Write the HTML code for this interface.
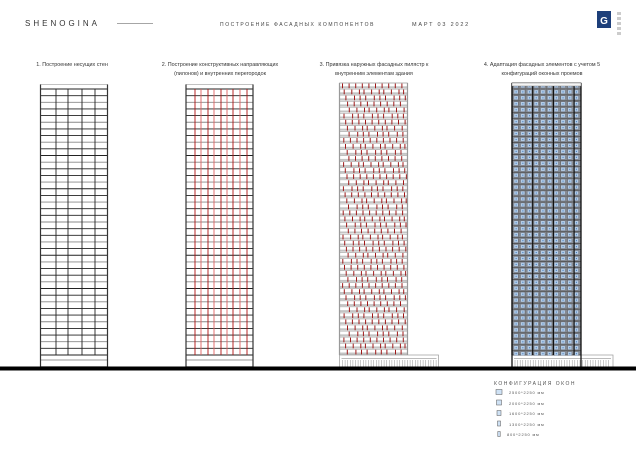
<!DOCTYPE html>
<html><head><meta charset="utf-8"><style>
body{margin:0;background:#fff;width:636px;height:450px;overflow:hidden;font-family:"Liberation Sans","Noto Sans CJK SC",sans-serif}
svg{display:block}
</style></head><body>
<svg id="s" width="636" height="450" xmlns="http://www.w3.org/2000/svg" font-family="Liberation Sans, sans-serif">
<text x="25" y="26" font-size="8" letter-spacing="3" fill="#333">SHENOGINA</text>
<line x1="117" y1="23.5" x2="153" y2="23.5" stroke="#888" stroke-width="0.7"/>
<text x="220" y="26" font-size="5" letter-spacing="1.6" fill="#444">ПОСТРОЕНИЕ ФАСАДНЫХ КОМПОНЕНТОВ</text>
<text x="412" y="26" font-size="5.5" letter-spacing="1.8" fill="#444">МАРТ 03 2022</text>
<rect x="597" y="11" width="14" height="17" fill="#1d3f7a"/>
<text x="604" y="24" font-size="10" font-weight="bold" fill="#fff" text-anchor="middle">G</text>
<g fill="#333" font-size="5.4" text-anchor="middle">
<text x="72" y="66">1. Построение несущих стен</text>
<text x="220" y="66">2. Построение конструктивных направляющих</text>
<text x="220" y="75">(пилонов) и внутренних перегородок</text>
<text x="374" y="66">3. Привязка наружных фасадных пилястр к</text>
<text x="374" y="75">внутренним элементам здания</text>
<text x="542" y="66">4. Адаптация фасадных элементов с учетом 5</text>
<text x="542" y="75">конфигураций оконных проемов</text>
</g>
<g id="g"></g>
<rect x="0" y="366.5" width="636" height="4" fill="#000"/>
<text x="494" y="385" font-size="5" letter-spacing="1.5" fill="#555">КОНФИГУРАЦИЯ ОКОН</text>
<g font-size="4" fill="#555" letter-spacing="0.8">
<rect x="496" y="389.5" width="6" height="5" fill="#cfe2f5" stroke="#555" stroke-width="0.5"/><text x="509" y="394">2500*2250 мм</text>
<rect x="496.5" y="400" width="5" height="5" fill="#cfe2f5" stroke="#555" stroke-width="0.5"/><text x="509" y="405">2000*2250 мм</text>
<rect x="497" y="410.5" width="4" height="5" fill="#cfe2f5" stroke="#555" stroke-width="0.5"/><text x="509" y="415">1600*2250 мм</text>
<rect x="497.5" y="421" width="3" height="5" fill="#cfe2f5" stroke="#555" stroke-width="0.5"/><text x="509" y="426">1300*2250 мм</text>
<rect x="497.8" y="431.5" width="2.4" height="5" fill="#cfe2f5" stroke="#555" stroke-width="0.5"/><text x="507" y="436">800*2250 мм</text>
</g>
<g fill="#ccc"><rect x="617" y="12" width="4" height="3"/><rect x="617" y="17" width="4" height="3"/><rect x="617" y="22" width="4" height="3"/><rect x="617" y="27" width="4" height="3"/><rect x="617" y="32" width="4" height="3"/></g>
</svg>
<script>
var g=document.getElementById('g'),h='';
function L(x1,y1,x2,y2,c,w){h+='<line x1="'+x1+'" y1="'+y1+'" x2="'+x2+'" y2="'+y2+'" stroke="'+c+'" stroke-width="'+w+'"/>';}
function R(x,y,w,hh,f,s,sw){h+='<rect x="'+x+'" y="'+y+'" width="'+w+'" height="'+hh+'" fill="'+f+'"'+(s?' stroke="'+s+'" stroke-width="'+sw+'"':'')+'/>';}
[[40.5,0],[186,1]].forEach(function(b){var x=b[0],W=67;
R(x,84.5,W,282,'#fff','#999',0.6);
for(var i=0;i<=40;i++){var y=89+i*6.65;L(x,y,x+W,y,i%3==2?'#888':'#222',0.9);}
L(x,360,x+W,360,'#999',0.9);
if(b[1]==0){[15.5,27.5,41.5,54.5].forEach(function(o){L(x+o,89,x+o,355,'#222',0.9);});}
else{[9,15,22,28,35,41,47,54,61].forEach(function(o,k){L(x+o,89,x+o,355,k%2?'#e06060':'#b01010',0.9);});}
L(x,84.5,x,367,'#333',1.2);L(x+W,84.5,x+W,367,'#333',1.2);});
var x3=339.5,W3=68;R(x3,83,W3,272,'#fff','#aaa',0.6);
for(var i=0;i<45;i++){var y=83+i*6.05;R(x3,y+3.3,W3,2,'#c4c4c4');L(x3,y,x3+W3,y,'#999',0.6);
var off=(i*1.7)%7;for(var k=0;k<10;k++){var xx=x3+3+off+k*6.6+((k*i)%3);if(xx<x3+W3-1)L(xx,y+0.5,xx,y+5.2,'#a01818',1);}}
L(x3,83,x3,355,'#999',1.2);L(x3+W3,83,x3+W3,355,'#999',1.2);
[[339.5,99],[512,101]].forEach(function(p){R(p[0],355,p[1],12,'#fff','#999',0.7);R(p[0]+2,358,p[1]-4,1,'#bbb');
for(var xx=p[0]+3;xx<p[0]+p[1]-2;xx+=2.6)L(xx,360,xx,367,'#777',0.4);});
var x4=512,W4=69;R(x4,83,W4,272,'#8a8f96','#444',0.8);
for(var i=0;i<46;i++){var y=83+i*5.95;L(x4,y,x4+W4,y,'#444',0.7);
for(var k=0;k<10;k++){var xx=x4+2+k*6.7;R(xx,y+1,4.2,3.8,'#b4cde6','#667',0.3);R(xx+1.6,y+2.4,1.1,1.1,'#4a7ec0');}}
for(var k=0;k<=10;k++){var xx=x4+k*6.9;L(xx,83,xx,355,k%3==0?'#111':'#666',k%3==0?1.2:0.6);}
L(x4,83,x4,367,'#111',1.3);L(x4+W4,83,x4+W4,367,'#111',1.3);
R(x4,83,W4,3,'#f4f4f4','#666',0.4);
g.innerHTML=h;
</script>
</body></html>
